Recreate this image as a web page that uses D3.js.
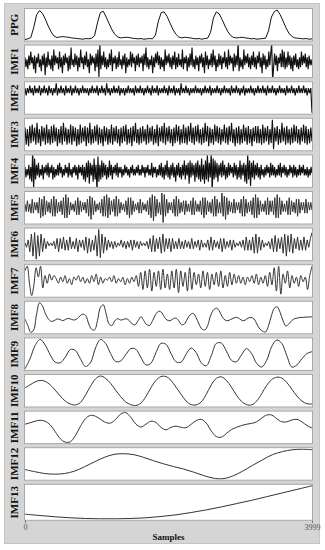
<!DOCTYPE html>
<html>
<head>
<meta charset="utf-8">
<script src="https://cdn.jsdelivr.net/npm/d3@7"></script>
<style>
  body { margin: 0; background: #fff; }
  .lbl { font-family: "Liberation Serif", "Times New Roman", serif; font-weight: bold; font-size: 11px; fill: #111; }
  .tick text { font-family: "Liberation Serif", serif; font-size: 8px; fill: #555; }
</style>
</head>
<body>
<div id="chart"></div>
<script>
// DATA: one array per panel, evenly spread over samples 0..3999
const names = ["PPG","IMF1","IMF2","IMF3","IMF4","IMF5","IMF6","IMF7","IMF8","IMF9","IMF10","IMF11","IMF12","IMF13"];
const xTicks = [0, 3999];
// y limits per panel (null = tight to the data)
const yLimits = [null, [-7.5, 7.5], null, null, [-7, 7], null, null, null, null, null, null, null, null, null];

const ppg = [8,10,14,45,85,98,90,72,50,32,19,14,16,17,16,15,13,12,11,10,
  9,11,10,12,20,60,92,96,78,58,38,24,16,13,14,15,14,12,11,10,
  11,9,10,11,10,22,65,92,94,80,60,40,25,16,13,15,14,13,11,10,
  11,9,11,12,30,75,94,88,70,50,32,20,14,13,14,15,13,12,10,11,
  9,10,11,12,35,78,95,100,86,66,45,28,18,13,12,11,10,11,9,10];

const imf1 = [2,-3,1,-4,3,-2,5,-1,2,-4,3,-6,2,-1,4,-3,1,-5,3,-2,
  4,-7,2,-3,5,-2,1,-4,3,-5,6,-2,3,-1,2,-4,5,-3,2,-6,
  3,-2,4,-1,2,-5,3,-4,7,-2,1,-3,4,-2,3,-5,2,-3,6,-1,
  2,-4,3,-2,5,-3,1,-6,4,-2,3,-1,2,-5,4,-3,6,-8,9,-4,
  3,-2,5,-3,2,-4,1,-3,4,-2,6,-5,2,-1,3,-4,2,-3,5,-2,
  1,-4,3,-2,4,-6,2,-3,1,-2,5,-3,4,-1,2,-5,3,-2,4,-3,
  2,-1,3,-5,4,-2,7,-3,2,-4,1,-2,3,-6,2,-3,4,-1,5,-2,
  3,-4,2,-3,1,-5,6,-2,3,-1,4,-3,2,-4,3,-2,5,-4,2,-3,
  4,-2,1,-3,6,-4,2,-1,3,-5,2,-3,4,-2,7,-3,1,-4,3,-2,
  2,-5,3,-1,4,-3,2,-6,5,-2,3,-4,1,-2,4,-3,6,-2,3,-5,
  1,-3,4,-2,3,-4,2,-1,5,-3,2,-4,6,-2,3,-1,2,-5,4,-3,
  3,-2,10,-5,2,-3,1,-4,6,-2,3,-1,4,-3,2,-4,3,-2,5,-3,
  2,-4,3,-1,5,-3,2,-6,4,-2,3,-4,1,-3,5,-2,4,9,-10,-3,
  4,-2,3,-5,2,-1,4,-3,6,-3,5,-4,2,-3,5,-2,3,-4,2,-5,
  3,-2,4,-3,1,-4,2,-3,5,-2,3,-1,4,-3,2,-4,3,-2,1,-2];

const imf2 = [1,-2,1,-1,2,-1,1,-2,2,-1,1,-1,2,-2,1,-1,2,-1,1,-2,
  2,-1,1,-2,1,-1,3,-2,1,-1,2,-1,1,-2,2,-1,1,-1,2,-2,
  1,-1,2,-1,1,-2,1,-1,2,-1,1,-1,1,-2,1,-1,2,-1,1,-1,
  2,-2,1,-1,2,-1,1,-2,3,-1,1,-2,1,-1,2,-1,1,-1,2,-2,
  1,-1,1,-2,1,-1,2,-1,1,-1,1,-2,2,-1,1,-1,2,-1,1,-2,
  1,-1,2,-1,1,-2,2,-1,1,-1,2,-2,1,-1,1,-1,2,-1,1,-2,
  2,-1,1,-1,2,-2,1,-1,1,-2,3,-1,1,-1,2,-1,1,-2,1,-1,
  1,-1,2,-1,1,-1,1,-2,1,-1,2,-1,1,-1,2,-2,1,-1,1,-1,
  2,-1,1,-2,1,-1,2,-1,1,-1,1,-2,2,-1,1,-1,2,-1,1,-2,
  1,-1,2,-2,1,-1,1,-1,2,-1,1,-2,1,-1,2,-1,1,-1,2,-1,
  1,-2,2,-1,1,-1,2,-1,1,-2,1,-1,2,-1,1,-1,1,-2,2,-1,
  1,-1,2,-1,1,-2,1,-1,2,-1,1,-1,2,-1,1,-2,1,-1,1,-9];

const imf3 = [5,-6,4,-7,6,-5,7,-4,5,-6,8,-5,4,-7,6,-4,5,-6,7,-5,
  4,-6,6,-5,7,-4,5,-7,4,-5,6,-6,8,-4,5,-6,4,-5,7,-6,
  6,-4,5,-7,4,-6,7,-5,5,-4,6,-7,5,-5,8,-6,4,-5,6,-4,
  7,-6,5,-5,4,-7,6,-4,5,-6,4,-5,7,-6,5,-4,6,-5,4,-7,
  5,-5,6,-4,7,-6,4,-5,5,-7,6,-4,8,-5,4,-6,5,-5,6,-4,
  4,-6,7,-5,5,-4,6,-6,4,-5,7,-7,5,-4,6,-5,8,-6,5,-4,
  6,-5,4,-7,5,-5,7,-4,6,-6,4,-5,7,-5,5,-6,6,-4,8,-5,
  5,-6,6,-4,7,-5,4,-6,5,-5,8,-4,6,-7,5,-5,4,-6,7,-4,
  6,-5,5,-6,4,-4,7,-5,5,-6,6,-4,8,-5,4,-7,5,-5,6,-6,
  4,-5,7,-4,5,-6,6,-5,4,-7,5,-4,6,-5,6,-5,4,-6,7,-5,
  5,-4,6,-6,4,-5,10,-9,5,-4,6,-6,4,-5,8,-4,5,-6,6,-5,
  4,-6,5,-5,7,-4,6,-5,4,-6,5,-4,7,-5,6,-6,4,-5,5,-4];

const imf4 = [2,-3,1,-2,3,-4,2,-5,10,-9,6,-4,3,-2,4,-3,1,-2,3,-4,
  2,-1,3,-2,4,-3,2,-1,3,-4,2,-3,1,-2,3,-2,4,-1,2,-3,
  1,-2,3,-1,2,-3,4,-2,1,-3,2,-1,3,-2,2,-4,3,-1,2,-2,
  3,-4,2,-5,4,-3,5,-6,4,-2,3,-5,6,-4,3,-10,7,-5,3,-4,
  5,-3,4,-2,3,-4,2,-3,5,-2,3,-4,2,-1,3,-2,4,-3,2,-1,
  2,-3,1,-2,3,-1,2,-2,1,-3,2,-1,3,-2,1,-2,2,-1,3,-2,
  1,-2,3,-1,2,-3,2,-1,3,-2,1,-2,4,-3,2,-1,2,-3,1,-2,
  3,-2,4,-3,2,-4,3,-2,5,-3,2,-4,3,-2,4,-3,2,-5,3,-2,
  4,-3,2,-4,3,-2,5,-4,3,-2,4,-6,5,-3,4,-2,3,-5,4,-3,
  5,-4,3,-5,6,-4,3,-6,5,-4,8,-5,4,-3,9,-10,6,-4,5,-3,
  4,-5,3,-2,4,-3,5,-2,3,-4,2,-3,4,-2,3,-1,2,-3,4,-2,
  3,-4,2,-3,5,-4,3,-2,4,-5,3,-6,8,-4,5,-7,4,-3,5,-4,
  3,-2,4,-3,2,-4,3,-2,1,-3,2,-2,3,-1,2,-3,4,-2,3,-2,
  2,-3,1,-2,3,-2,4,-3,2,-1,3,-2,2,-3,1,-2,3,-1,2,-3,
  3,-2,2,-3,1,-2,3,-2,2,-1,3,-2,1,-2,2,-3,1,-2,2,-1];

const imf5 = [2,-3,4,-3,2,-4,5,-4,3,-2,3,-4,6,-7,5,-6,7,-5,4,-3,
  3,-4,5,-6,7,-6,5,-4,3,-3,4,-5,6,-7,8,-7,6,-5,3,-2,
  2,-3,4,-5,6,-5,4,-3,3,-2,3,-4,5,-6,7,-8,6,-5,4,-3,
  2,-2,3,-4,5,-6,7,-6,8,-7,6,-5,4,-3,5,-6,7,-6,5,-4,
  3,-2,2,-3,4,-5,6,-7,6,-5,4,-3,2,-2,3,-4,5,-4,3,-2,
  2,-3,4,-5,6,-7,8,-9,7,-6,5,-4,3,-5,9,-10,8,-6,5,-4,
  3,-2,3,-4,5,-6,7,-6,5,-4,3,-3,4,-5,4,-3,2,-3,4,-5,
  6,-5,4,-3,2,-3,4,-5,6,-7,6,-5,4,-3,3,-4,5,-6,7,-6,
  5,-4,3,-4,9,-6,7,-8,6,-5,4,-3,3,-4,5,-4,3,-2,3,-4,
  5,-6,7,-6,5,-4,3,-3,4,-5,6,-7,8,-7,6,-5,4,-3,2,-3,
  4,-5,6,-5,4,-3,4,-5,6,-7,8,-7,6,-5,4,-3,2,-3,4,-5,
  6,-5,4,-3,3,-4,5,-6,5,-4,3,-2,3,-4,5,-4,3,-2,3,-2];

const imf6 = [1,-2,3,-5,7,-8,8,-10,6,-8,7,-5,4,-3,2,-1,1,-1,2,-3,
  4,-5,4,-3,5,-4,3,-4,5,-3,2,-3,4,-5,3,-2,3,-4,5,-6,
  4,-5,3,-4,6,-8,10,-9,7,-6,5,-4,3,-2,2,-3,2,-2,1,-1,
  3,-2,2,-3,2,-2,3,-4,3,-2,2,-3,2,-1,1,-1,2,-3,4,-5,
  6,-5,4,-3,5,-6,7,-5,4,-3,4,-5,4,-3,2,-3,4,-3,2,-3,
  3,-2,2,-3,4,-3,2,-2,3,-4,3,-2,1,-2,3,-4,5,-4,3,-2,
  2,-3,4,-5,4,-3,2,-2,3,-4,3,-2,1,-1,2,-2,3,-4,5,-4,
  3,-4,5,-6,7,-6,5,-4,3,-2,1,-1,2,-3,4,-5,6,-5,4,-3,
  5,-6,7,-8,6,-5,7,-6,4,-3,5,-4,3,-4,5,-4,3,-2,4,8];

const imf7 = [6,9,-2,-10,-3,8,2,9,-5,3,-2,4,0,3,
  1,-2,2,-1,3,-2,1,-3,2,0,3,-1,2,-2,1,-2,3,-1,4,-3,2,-2,1,0,2,-1,3,-2,1,-1,2,-3,1,-2,2,-1,3,
  -4,5,-6,6,-5,7,-7,5,-4,6,-6,7,-5,4,-6,6,-5,7,-8,6,-4,5,-7,8,-6,5,-3,4,-5,6,-4,5,-6,4,-3,5,-4,6,-5,3,-4,5,-3,4,-2,
  3,-2,2,-3,2,-1,3,-2,4,-3,2,-2,3,-4,5,-3,8,-7,9,-9,
  4,-2,6,-5,3,-2,2,-4,3,-1,2,-6,3,9];

const imf8 = [45,25,5,12,60,94,85,62,46,38,40,45,44,40,44,47,44,42,46,55,
  60,55,30,14,12,40,80,88,60,30,25,40,46,42,44,46,40,30,28,40,
  52,40,28,26,40,58,68,66,52,42,40,45,48,40,28,30,45,58,62,50,
  30,15,12,25,55,72,78,70,52,42,40,44,48,50,46,40,42,48,50,45,
  30,15,8,6,25,55,78,82,65,40,24,30,40,46,48,50,50,51,51,52];

const imf9 = [2,35,78,98,80,48,24,22,40,65,62,35,10,22,70,98,85,52,26,28,
  48,68,66,40,15,20,55,85,82,52,25,24,50,70,55,22,12,45,85,86,
  60,30,25,48,68,52,20,8,30,75,96,85,45,8,15,35,52,58];

const imf10 = [60,70,80,85,82,70,52,32,15,5,2,10,35,65,90,100,92,75,52,30,
  12,3,0,8,30,60,85,98,98,85,62,38,15,3,2,12,38,70,92,97,
  85,62,35,14,3,2,15,40,68,88,96,93,78,55,32,15,6,5];

const imf11 = [62,67,72,75,72,60,38,15,4,5,25,55,80,91,88,78,68,66,78,95,
  100,85,63,53,62,72,68,52,44,52,56,52,51,62,74,78,66,40,22,20,
  32,45,52,58,62,65,70,82,92,92,80,70,70,76,78,70,58,50];

const imf12 = [33,26,20,18,20,28,42,58,73,83,85,82,73,62,52,43,35,25,14,5,
  3,12,28,47,65,82,92,98,100,98];

const imf13 = [14,10,6,3,1,0,0,1,3,7,12,19,27,36,46,56,67,78,89,100];

const series = [ppg, imf1, imf2, imf3, imf4, imf5, imf6, imf7, imf8, imf9, imf10, imf11, imf12, imf13];

// SETUP
const W = 325, H = 550;
const left = 25, right = 312, top0 = 8, pitch = 36.6, ph = 33.5, lastH = 37;

const svg = d3.select("#chart").append("svg")
    .attr("width", W)
    .attr("height", H);

// outer frame
svg.append("rect")
    .attr("x", 4.5).attr("y", 3.5)
    .attr("width", 315).attr("height", 540)
    .attr("fill", "#d5d5d5")
    .attr("stroke", "#c4c4c4");

const x = d3.scaleLinear().domain([0, 3999]).range([left, right]);

series.forEach((vals, k) => {
    const y0 = top0 + k * pitch;
    const h = k === 13 ? lastH : ph;
    const smooth = k >= 7;
    const noisy = k >= 1 && k <= 4;

    const g = svg.append("g");

    g.append("rect")
        .attr("x", left - 0.5).attr("y", y0 + 0.5)
        .attr("width", right - left + 1).attr("height", h - 1)
        .attr("fill", "#fff")
        .attr("stroke", "#a8a8a8");

    g.append("clipPath").attr("id", "c" + k)
      .append("rect")
        .attr("x", left).attr("y", y0 + 1)
        .attr("width", right - left).attr("height", h - 2);

    const dom = yLimits[k] || d3.extent(vals);
    const y = d3.scaleLinear().domain(dom).range([y0 + h - 2, y0 + 2]);
    const step = 3999 / (vals.length - 1);

    const line = d3.line()
        .x((d, i) => x(i * step))
        .y(d => y(d))
        .curve(smooth ? d3.curveCatmullRom.alpha(0.5) : d3.curveLinear);

    g.append("path")
        .datum(vals)
        .attr("clip-path", `url(#c${k})`)
        .attr("d", line)
        .attr("fill", "none")
        .attr("stroke", k < 5 ? "#111" : "#333")
        .attr("stroke-width", noisy ? 1.15 : 1);

    // rotated panel label
    svg.append("text")
        .attr("class", "lbl")
        .attr("text-anchor", "middle")
        .attr("transform", `translate(18,${y0 + h / 2}) rotate(-90)`)
        .text(names[k]);
});

// x axis
const axisY = top0 + 13 * pitch + lastH;
const ax = svg.append("g")
    .attr("transform", `translate(0,${axisY})`)
    .call(d3.axisBottom(x).tickValues(xTicks).tickSize(2).tickPadding(2).tickFormat(d3.format("d")));
ax.select(".domain").remove();
ax.selectAll(".tick line").attr("stroke", "#666");

svg.append("text")
    .attr("class", "lbl")
    .attr("x", (left + right) / 2)
    .attr("y", 540)
    .attr("text-anchor", "middle")
    .style("font-size", "9px")
    .text("Samples");
</script>
</body>
</html>
